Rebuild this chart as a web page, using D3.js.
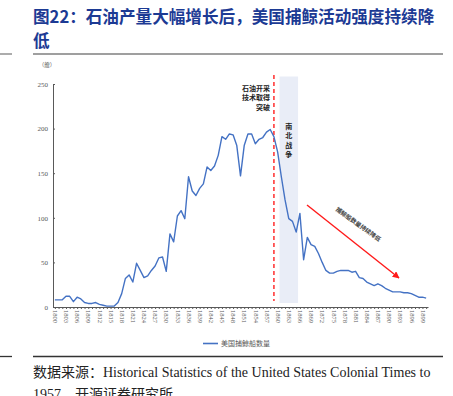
<!DOCTYPE html>
<html>
<head>
<meta charset="utf-8">
<script src="https://cdn.jsdelivr.net/npm/d3@7"></script>
<style>
  body { margin: 0; background: #fff; }
  svg { display: block; }
  .axis path, .axis line { stroke: #595959; }
  .axis text { font-family: "Liberation Serif", serif; fill: #595959; }
</style>
</head>
<body>
<svg width="453" height="396"></svg>
<script>
var years = d3.range(1800, 1901);
var ships = [
  8, 8, 8, 12, 12, 6, 11, 9, 5, 4,
  4, 5, 3, 2, 1, 1, 1, 5, 15, 32,
  36, 28, 49, 41, 33, 35, 41, 46, 55, 56,
  40, 82, 73, 102, 108, 99, 146, 130, 125, 133,
  138, 157, 153, 158, 170, 191, 188, 194, 193, 181,
  147, 181, 194, 194, 183, 188, 190, 196, 199, 191,
  174, 146, 120, 99, 96, 84, 105, 53, 78, 70,
  68, 60, 50, 41, 38, 38, 40, 41, 41, 41,
  39, 40, 33, 32, 28, 26, 24, 26, 24, 21,
  19, 17, 17, 17, 16, 16, 15, 13, 11, 11,
  10
];
var yTicks = [0, 50, 100, 150, 200, 250];
var oilYear = 1859;
var warYears = [1861, 1865];

var svg = d3.select("svg");
var cjk = '"Noto Sans CJK SC", sans-serif';

// title
svg.append("text")
    .attr("x", 33).attr("y", 23)
    .style("font-family", cjk).style("font-weight", "bold")
    .style("font-size", "16.6px").attr("fill", "#1c3a94")
    .text("图22：石油产量大幅增长后，美国捕鲸活动强度持续降");
svg.append("text")
    .attr("x", 33).attr("y", 47)
    .style("font-family", cjk).style("font-weight", "bold")
    .style("font-size", "16.6px").attr("fill", "#1c3a94")
    .text("低");

// rules
[54, 356.5].forEach(function(yy, i) {
    svg.append("line").attr("x1", 33).attr("x2", 443).attr("y1", yy).attr("y2", yy)
        .attr("stroke", i == 0 ? "#7f7f7f" : "#333").attr("stroke-width", 1.3);
    svg.append("line").attr("x1", 0).attr("x2", 12).attr("y1", yy).attr("y2", yy)
        .attr("stroke", i == 0 ? "#7f7f7f" : "#333").attr("stroke-width", 1.3);
});

var x = d3.scalePoint().domain(years).range([53, 428]).padding(0.5);
var step = x.step();
var y = d3.scaleLinear().domain([0, 250]).range([307, 84]);

// civil war band
svg.append("rect")
    .attr("x", x(warYears[0]) - step / 2)
    .attr("y", 76.5)
    .attr("width", x(warYears[1]) - x(warYears[0]) + step)
    .attr("height", y(0) - 76.5 - 4)
    .attr("fill", "#e9edf7");

svg.selectAll(".war")
    .data(["南", "北", "战", "争"])
    .enter().append("text")
    .attr("x", x(1863))
    .attr("y", function(d, i) { return 129 + i * 9.3; })
    .attr("text-anchor", "middle")
    .style("font-family", cjk).style("font-size", "7px").style("font-weight", "bold")
    .attr("fill", "#222")
    .text(function(d) { return d; });

// oil line
svg.append("line")
    .attr("x1", x(oilYear)).attr("x2", x(oilYear))
    .attr("y1", 75).attr("y2", y(0) - 6)
    .attr("stroke", "#ff3b3b").attr("stroke-width", 1.6)
    .attr("stroke-dasharray", "4,3");

svg.selectAll(".oil")
    .data(["石油开采", "技术取得", "突破"])
    .enter().append("text")
    .attr("x", x(oilYear) - 4)
    .attr("y", function(d, i) { return 91 + i * 9.4; })
    .attr("text-anchor", "end")
    .style("font-family", cjk).style("font-size", "7px").style("font-weight", "bold")
    .attr("fill", "#222")
    .text(function(d) { return d; });

// axes
var xAxis = d3.axisBottom(x)
    .tickSizeInner(2).tickSizeOuter(0)
    .tickFormat(function(d) { return (d - 1800) % 3 == 0 ? d : ""; });
var gx = svg.append("g").attr("class", "axis")
    .attr("transform", "translate(0," + y(0) + ")")
    .call(xAxis);
gx.selectAll("text")
    .attr("transform", "rotate(90)")
    .attr("x", 3).attr("y", 0).attr("dy", "0.35em")
    .style("text-anchor", "start")
    .style("font-size", "6.5px");

var gy = svg.append("g").attr("class", "axis")
    .attr("transform", "translate(53,0)")
    .call(d3.axisLeft(y).tickValues(yTicks).tickSizeInner(-2).tickSizeOuter(0).tickPadding(5));
gy.selectAll("text").style("font-size", "7px");

svg.append("text")
    .attr("x", 47).attr("y", 67)
    .attr("text-anchor", "middle")
    .style("font-family", cjk).style("font-size", "5.5px")
    .attr("fill", "#595959")
    .text("（艘）");

// series
var line = d3.line()
    .x(function(d, i) { return x(years[i]); })
    .y(function(d) { return y(d); });

svg.append("path")
    .datum(ships)
    .attr("fill", "none")
    .attr("stroke", "#4472c4")
    .attr("stroke-width", 1.4)
    .attr("stroke-linejoin", "round")
    .attr("d", line);

// trend arrow
svg.append("defs").append("marker")
    .attr("id", "arr").attr("viewBox", "0 0 10 10")
    .attr("refX", 9).attr("refY", 5)
    .attr("markerWidth", 5).attr("markerHeight", 5)
    .attr("orient", "auto")
  .append("path").attr("d", "M0,0L10,5L0,10Z").attr("fill", "#ff1a1a");

svg.append("line")
    .attr("x1", 307).attr("y1", 205).attr("x2", 399).attr("y2", 278)
    .attr("stroke", "#ff1a1a").attr("stroke-width", 1.4)
    .attr("marker-end", "url(#arr)");

svg.append("text")
    .attr("transform", "translate(357,226) rotate(36)")
    .attr("text-anchor", "middle")
    .style("font-family", cjk).style("font-size", "6px").style("font-weight", "bold")
    .attr("fill", "#444")
    .text("捕鲸船数量持续降低");

// legend
svg.append("line")
    .attr("x1", 203).attr("x2", 218).attr("y1", 343.5).attr("y2", 343.5)
    .attr("stroke", "#4472c4").attr("stroke-width", 1.6);
svg.append("text")
    .attr("x", 221).attr("y", 346)
    .style("font-family", cjk).style("font-size", "7px")
    .attr("fill", "#595959")
    .text("美国捕鲸船数量");

// source
var src = svg.append("text")
    .attr("x", 33).attr("y", 377)
    .style("font-family", '"Liberation Serif", serif').style("font-size", "14px")
    .attr("fill", "#222");
src.append("tspan").style("font-family", cjk).text("数据来源：");
src.append("tspan").text("Historical Statistics of the United States Colonial Times to");

var src2 = svg.append("text")
    .attr("x", 33).attr("y", 399)
    .style("font-family", '"Liberation Serif", serif').style("font-size", "14px")
    .attr("fill", "#222");
src2.append("tspan").text("1957");
src2.append("tspan").style("font-family", cjk).text("，开源证券研究所");
</script>
</body>
</html>
